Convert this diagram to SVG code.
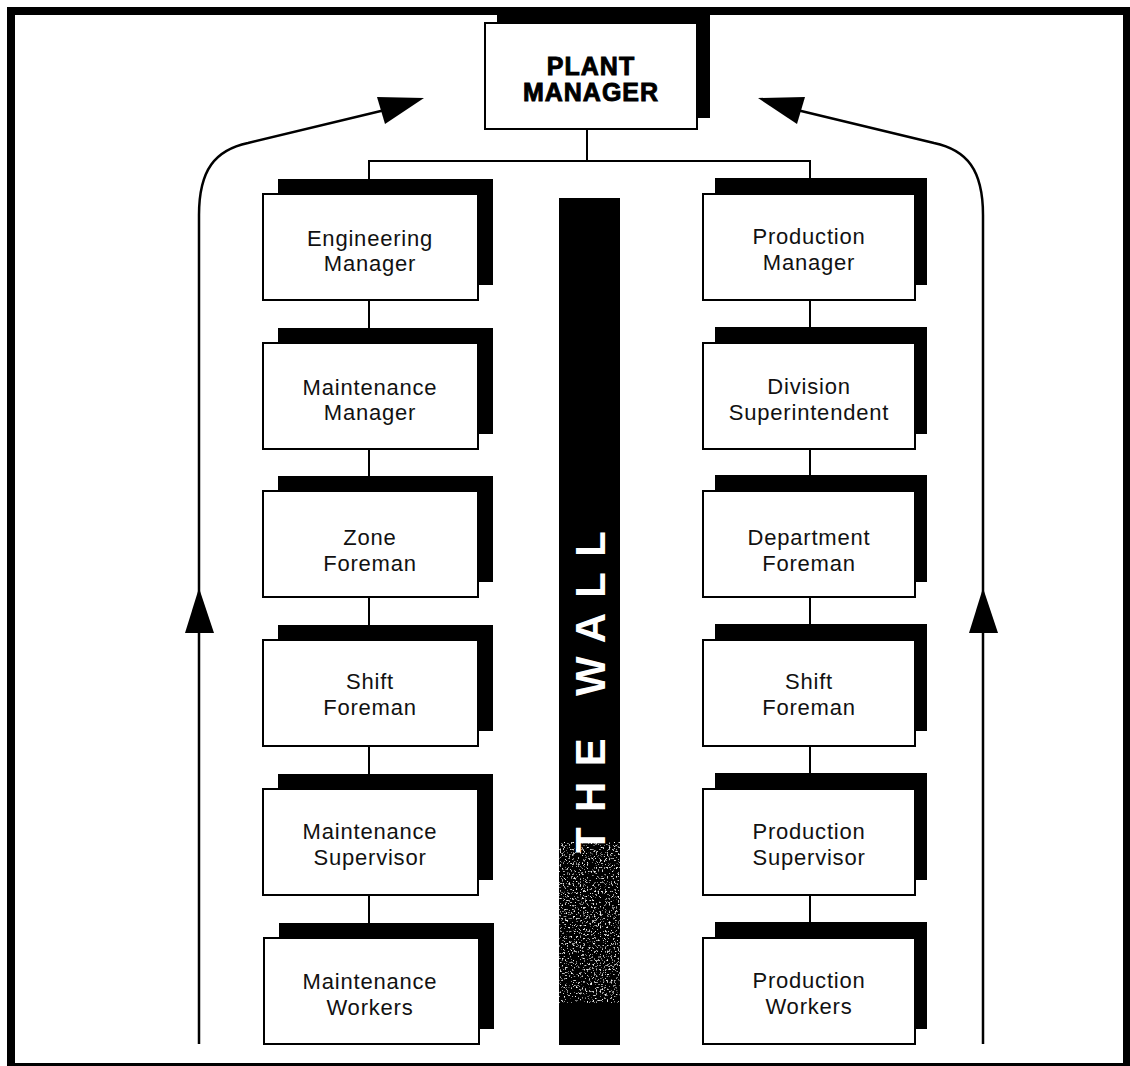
<svg xmlns="http://www.w3.org/2000/svg" width="1130" height="1066" viewBox="0 0 1130 1066">
  <style>
    .box { fill: #fff; stroke: #000; stroke-width: 2; }
    .shadow { fill: #000; }
    .lbl { font-family: "Liberation Sans", Arial, Helvetica, sans-serif; font-size: 22px; letter-spacing: 0.8px; fill: #111; text-anchor: middle; }
    .head { font-family: "Liberation Sans", Arial, Helvetica, sans-serif; font-size: 25px; font-weight: bold; letter-spacing: 1px; fill: #000; stroke: #000; stroke-width: 0.9; text-anchor: middle; }
    .line { fill: none; stroke: #000; stroke-width: 2; }
    .flow { fill: none; stroke: #000; stroke-width: 2.5; }
    .head-tri { fill: #000; }
  </style>
  <defs>
    <filter id="grain" x="0" y="0" width="100%" height="100%">
      <feTurbulence type="fractalNoise" baseFrequency="0.55" numOctaves="2" seed="7" result="noise"/>
      <feColorMatrix in="noise" type="matrix" values="0 0 0 0 1  0 0 0 0 1  0 0 0 0 1  5 0 0 0 -2.95" result="specks"/>
      <feMerge>
        <feMergeNode in="SourceGraphic"/>
        <feMergeNode in="specks"/>
      </feMerge>
    </filter>
  </defs>

  <rect x="0" y="0" width="1130" height="1066" fill="#fff"/>
  <!-- outer frame -->
  <rect x="11" y="11" width="1116" height="1056" fill="none" stroke="#000" stroke-width="8"/>

  <!-- connectors -->
  <g id="connectors">
    <path class="line" d="M587,129 V161 M368,161 H811 M369,161 V938 M810,161 V938"/>
    <!-- upward flow, left side -->
    <path class="flow" d="M199,1044 L199,215 C199,170 215,150 248,143 L385,110"/>
    <polygon class="head-tri" points="424,98 377,97 385,124"/>
    <polygon class="head-tri" points="199,588 185,633 214,633"/>
    <!-- upward flow, right side -->
    <path class="flow" d="M983,1044 L983,215 C983,170 967,150 934,143 L797,110"/>
    <polygon class="head-tri" points="758,98 805,97 797,124"/>
    <polygon class="head-tri" points="983,588 969,633 998,633"/>
  </g>

  <!-- the wall -->
  <g id="wall">
    <rect x="559" y="198" width="61" height="847" fill="#000"/>
    <rect x="559" y="842" width="61" height="161" fill="#000" filter="url(#grain)"/>
    <text transform="translate(605,692) rotate(-90)" x="0" y="0" text-anchor="middle" textLength="322" lengthAdjust="spacing" font-family="'Liberation Sans', Arial, Helvetica, sans-serif" font-size="42" font-weight="bold" fill="#fff">THE WALL</text>
  </g>

  <!-- top node -->
  <g id="plant-manager">
    <rect class="shadow" x="497" y="12" width="213" height="106"/>
    <rect class="box" x="485" y="23" width="212" height="106"/>
    <text class="head" x="591" y="75">PLANT</text>
    <text class="head" x="591" y="101">MANAGER</text>
  </g>

  <!-- left column -->
  <g id="engineering-manager">
    <rect class="shadow" x="278" y="179" width="215" height="106"/>
    <rect class="box" x="263" y="194" width="215" height="106"/>
    <text class="lbl" x="370" y="246">Engineering</text>
    <text class="lbl" x="370" y="271">Manager</text>
  </g>
  <g id="maintenance-manager">
    <rect class="shadow" x="278" y="328" width="215" height="106"/>
    <rect class="box" x="263" y="343" width="215" height="106"/>
    <text class="lbl" x="370" y="395">Maintenance</text>
    <text class="lbl" x="370" y="420">Manager</text>
  </g>
  <g id="zone-foreman">
    <rect class="shadow" x="278" y="476" width="215" height="106"/>
    <rect class="box" x="263" y="491" width="215" height="106"/>
    <text class="lbl" x="370" y="545">Zone</text>
    <text class="lbl" x="370" y="571">Foreman</text>
  </g>
  <g id="shift-foreman-left">
    <rect class="shadow" x="278" y="625" width="215" height="106"/>
    <rect class="box" x="263" y="640" width="215" height="106"/>
    <text class="lbl" x="370" y="689">Shift</text>
    <text class="lbl" x="370" y="715">Foreman</text>
  </g>
  <g id="maintenance-supervisor">
    <rect class="shadow" x="278" y="774" width="215" height="106"/>
    <rect class="box" x="263" y="789" width="215" height="106"/>
    <text class="lbl" x="370" y="839">Maintenance</text>
    <text class="lbl" x="370" y="865">Supervisor</text>
  </g>
  <g id="maintenance-workers">
    <rect class="shadow" x="279" y="923" width="215" height="106"/>
    <rect class="box" x="264" y="938" width="215" height="106"/>
    <text class="lbl" x="370" y="989">Maintenance</text>
    <text class="lbl" x="370" y="1015">Workers</text>
  </g>

  <!-- right column -->
  <g id="production-manager">
    <rect class="shadow" x="715" y="178" width="212" height="107"/>
    <rect class="box" x="703" y="194" width="212" height="106"/>
    <text class="lbl" x="809" y="244">Production</text>
    <text class="lbl" x="809" y="270">Manager</text>
  </g>
  <g id="division-superintendent">
    <rect class="shadow" x="715" y="327" width="212" height="107"/>
    <rect class="box" x="703" y="343" width="212" height="106"/>
    <text class="lbl" x="809" y="394">Division</text>
    <text class="lbl" x="809" y="420">Superintendent</text>
  </g>
  <g id="department-foreman">
    <rect class="shadow" x="715" y="475" width="212" height="107"/>
    <rect class="box" x="703" y="491" width="212" height="106"/>
    <text class="lbl" x="809" y="545">Department</text>
    <text class="lbl" x="809" y="571">Foreman</text>
  </g>
  <g id="shift-foreman-right">
    <rect class="shadow" x="715" y="624" width="212" height="107"/>
    <rect class="box" x="703" y="640" width="212" height="106"/>
    <text class="lbl" x="809" y="689">Shift</text>
    <text class="lbl" x="809" y="715">Foreman</text>
  </g>
  <g id="production-supervisor">
    <rect class="shadow" x="715" y="773" width="212" height="107"/>
    <rect class="box" x="703" y="789" width="212" height="106"/>
    <text class="lbl" x="809" y="839">Production</text>
    <text class="lbl" x="809" y="865">Supervisor</text>
  </g>
  <g id="production-workers">
    <rect class="shadow" x="715" y="922" width="212" height="107"/>
    <rect class="box" x="703" y="938" width="212" height="106"/>
    <text class="lbl" x="809" y="988">Production</text>
    <text class="lbl" x="809" y="1014">Workers</text>
  </g>
</svg>
